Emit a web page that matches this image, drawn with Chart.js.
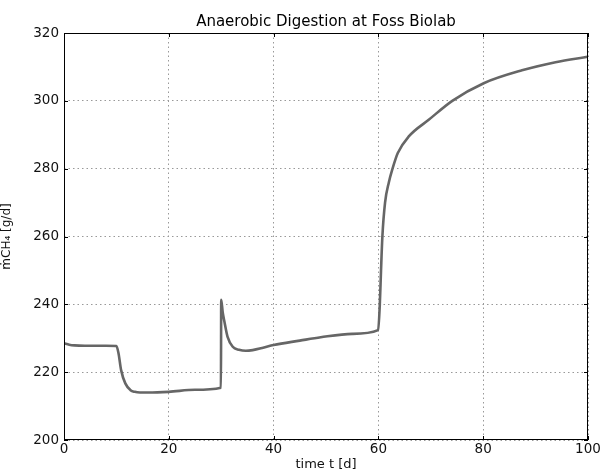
<!DOCTYPE html>
<html>
<head>
<meta charset="utf-8">
<script src="https://cdn.jsdelivr.net/npm/chart.js@4/dist/chart.umd.min.js"></script>
<style>
  html, body { margin: 0; padding: 0; background: #fff; }
  #wrap { width: 606px; height: 472px; }
</style>
</head>
<body>
<div id="wrap"><canvas id="chart" width="606" height="472"></canvas></div>
<script>
// time in days and methane flow
const times = [0, 1, 2, 4, 6, 8, 10, 10.4, 10.9, 11.7, 12.7, 13.5, 14.5, 16, 20, 25, 29.95,
  30, 30.3, 30.6, 31.2, 32.2, 33.4, 34.7, 36, 38, 40, 45, 49, 55, 59.95,
  60.27, 60.5, 60.76, 61.27, 62.0, 62.7, 63.7, 65.8, 69.6, 74.1, 80.1, 87.4, 93.8, 100];
const methane = [228.5, 228.1, 227.9, 227.8, 227.8, 227.8, 227.7, 225.6, 220.6, 216.7, 214.7, 214.2, 214.0, 214.0, 214.2, 214.8, 215.4,
  241.3, 237.5, 235.0, 230.5, 227.5, 226.6, 226.3, 226.5, 227.2, 228.0, 229.3, 230.3, 231.3, 232.4,
  240, 250, 260, 270, 276, 280, 284.6, 289.5, 294.4, 300, 305.2, 309, 311.4, 313];
const xTicks = [0, 20, 40, 60, 80, 100];
const yTicks = [200, 220, 240, 260, 280, 300, 320];

const FONT = "'DejaVu Sans', sans-serif";

// frame, inward ticks and title, matplotlib style
const framePlugin = {
  id: "frame",
  afterDraw(chart) {
    const { ctx, chartArea: a, scales } = chart;
    ctx.save();
    ctx.strokeStyle = "#000";
    ctx.lineWidth = 1;
    ctx.strokeRect(a.left + 0.5, a.top + 0.5, a.right - a.left - 1, a.bottom - a.top - 1);
    ctx.beginPath();
    for (const v of xTicks) {
      const px = Math.round(scales.x.getPixelForValue(v)) + 0.5;
      ctx.moveTo(px, a.bottom); ctx.lineTo(px, a.bottom - 4);
      ctx.moveTo(px, a.top); ctx.lineTo(px, a.top + 4);
    }
    for (const v of yTicks) {
      const py = Math.round(scales.y.getPixelForValue(v)) + 0.5;
      ctx.moveTo(a.left, py); ctx.lineTo(a.left + 4, py);
      ctx.moveTo(a.right, py); ctx.lineTo(a.right - 4, py);
    }
    ctx.stroke();
    ctx.fillStyle = "#000";
    ctx.font = "15px " + FONT;
    ctx.textAlign = "center";
    ctx.textBaseline = "bottom";
    ctx.fillText("Anaerobic Digestion at Foss Biolab", (a.left + a.right) / 2, a.top - 3);
    ctx.restore();
  },
};

new Chart(document.getElementById("chart").getContext("2d"), {
  type: "line",
  data: {
    datasets: [
      {
        data: times.map((t, i) => ({ x: t, y: methane[i] })),
        borderColor: "#666666",
        borderWidth: 2.6,
        pointRadius: 0,
        fill: false,
        cubicInterpolationMode: "monotone",
      },
    ],
  },
  options: {
    responsive: false,
    animation: false,
    layout: { padding: { top: 33, right: 18, left: 0, bottom: 0 } },
    plugins: { legend: { display: false }, tooltip: { enabled: false } },
    scales: {
      x: {
        type: "linear",
        min: 0,
        max: 100,
        afterBuildTicks: (s) => { s.ticks = xTicks.map((v) => ({ value: v })); },
        afterFit: (s) => { s.height = 32; },
        ticks: { color: "#111", font: { family: FONT, size: 13.5 }, padding: 1, maxRotation: 0 },
        grid: { color: "#999", lineWidth: 1, drawTicks: false },
        border: { display: false, dash: [1.5, 3] },
        title: { display: true, text: "time t [d]", color: "#111", font: { family: FONT, size: 13 }, padding: { top: 0, bottom: 0 } },
      },
      y: {
        min: 200,
        max: 320,
        afterBuildTicks: (s) => { s.ticks = yTicks.map((v) => ({ value: v })); },
        afterFit: (s) => { s.width = 64; },
        ticks: { color: "#111", font: { family: FONT, size: 13.5 }, padding: 5 },
        grid: { color: "#999", lineWidth: 1, drawTicks: false },
        border: { display: false, dash: [1.5, 3] },
        title: { display: true, text: "ṁCH₄ [g/d]", color: "#111", font: { family: FONT, size: 12 }, padding: { top: 0, bottom: 4 } },
      },
    },
  },
  plugins: [framePlugin],
});
</script>
</body>
</html>
